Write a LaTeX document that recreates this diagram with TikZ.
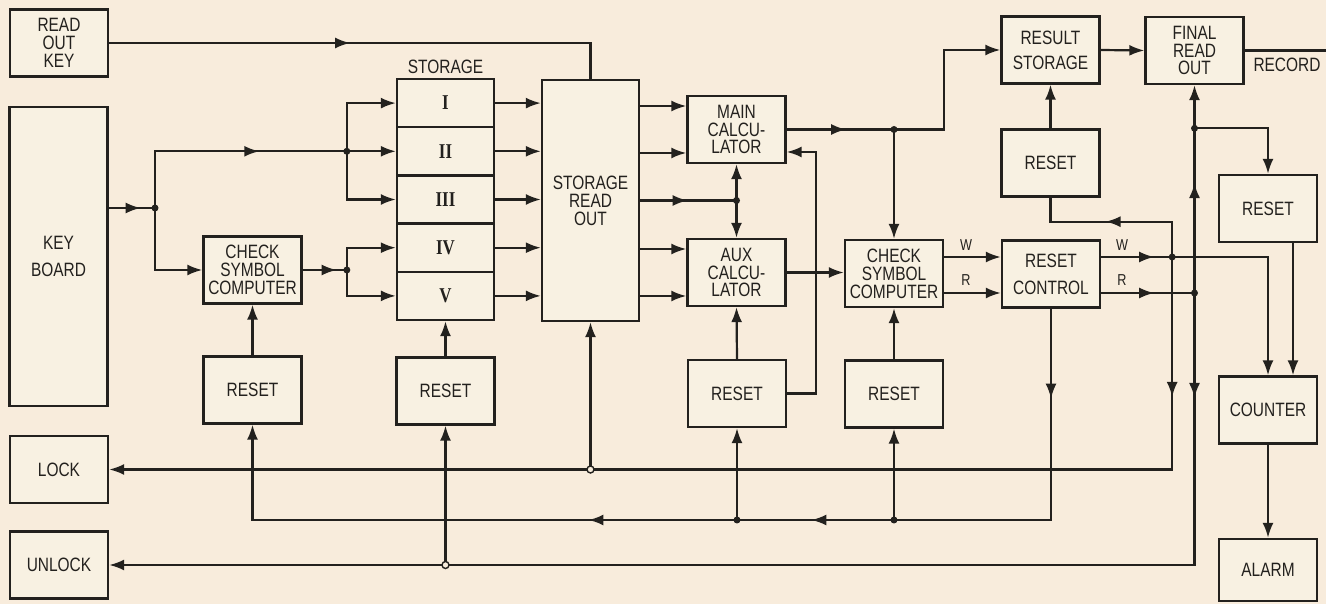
\documentclass[tikz,border=0pt]{standalone}
\usepackage{fontspec}
\setmainfont{Liberation Sans}[FakeStretch=0.8]
\newfontfamily\romfont{Liberation Serif}[FakeStretch=0.8]
\usetikzlibrary{arrows.meta,decorations.markings}
\definecolor{paper}{RGB}{248,236,220}
\definecolor{boxfill}{RGB}{248,241,226}
\definecolor{ink}{RGB}{35,33,30}

\begin{document}
\begin{tikzpicture}[x=0.02cm, y=-0.02cm,
	>={Latex[length=3mm,width=2.2mm]},
	blk/.style={draw=ink, text=ink, line width=1.35pt, fill=boxfill, align=center, inner sep=0pt, minimum width=1.96cm, minimum height=1.34cm, font=\fontsize{11}{10.2}\selectfont},
	row/.style={blk, minimum width=1.94cm, minimum height=0.964cm, font=\romfont\bfseries\fontsize{12}{12}\selectfont},
	lbl/.style={inner sep=0pt, text=ink, font=\fontsize{11}{10.2}\selectfont},
	sm/.style={inner sep=0pt, text=ink, font=\fontsize{9}{9}\selectfont},
	wire/.style={ink, line width=1.25pt},
	marr/.style={postaction={decorate, decoration={markings, mark=at position #1 with {\arrow{>}}}}},
	ring/.style={draw=ink, line width=0.8pt, fill=paper}]

		\useasboundingbox (0,0) rectangle (1326,604);
		\fill[paper] (0,0) rectangle (1326,604);

		% left column
		\node[blk] (readkey) at (59,43) {READ\\OUT\\KEY};
		\node[blk, minimum height=5.98cm] (keyboard) at (58.5,256.5) {KEY\\[5pt]BOARD};
		\node[blk] (lock) at (59,469.5) {LOCK};
		\node[blk] (unlock) at (59,565) {UNLOCK};
		\node[blk] (chkleft) at (252.5,270) {CHECK\\SYMBOL\\COMPUTER};
		\node[blk] (resetchk) at (252.5,390) {RESET};

		% storage
		\node[lbl] (storage) at (445.5,67) {STORAGE};
		\node[row] (st1) at (445.5,103.1) {I};
		\node[row] (st2) at (445.5,151.3) {II};
		\node[row] (st3) at (445.5,199.5) {III};
		\node[row] (st4) at (445.5,247.7) {IV};
		\node[row] (st5) at (445.5,295.9) {V};
		\node[blk] (resetst) at (445.5,391) {RESET};
		\node[blk, minimum width=1.94cm, minimum height=4.82cm] (readout) at (590.5,200.5) {STORAGE\\READ\\OUT};

		% calculators
		\node[blk] (maincalc) at (736.5,129.5) {MAIN\\CALCU-\\LATOR};
		\node[blk] (auxcalc) at (736.5,272.5) {AUX\\CALCU-\\LATOR};
		\node[blk] (resetaux) at (737,393.5) {RESET};
		\node[blk] (chkright) at (894,273.5) {CHECK\\SYMBOL\\COMPUTER};
		\node[blk] (resetchk2) at (894,394) {RESET};

		% result side
		\node[blk] (result) at (1050.5,50) {RESULT\\[4pt]STORAGE};
		\node[blk] (final) at (1194.5,50.5) {FINAL\\READ\\OUT};
		\node[blk] (resetres) at (1050.5,163) {RESET};
		\node[blk] (resetctl) at (1051,274) {RESET\\[5pt]CONTROL};
		\node[blk] (resetcnt) at (1268,208.5) {RESET};
		\node[blk] (counter) at (1268,410) {COUNTER};
		\node[blk, minimum height=1.24cm] (alarm) at (1268,570) {ALARM};
		\node[lbl] (record) at (1287,65) {RECORD};
		\node[sm] (w1) at (966,245) {W};
		\node[sm] (r1) at (966,280) {R};
		\node[sm] (w2) at (1122,245) {W};
		\node[sm] (r2) at (1122,280) {R};

		\coordinate (j1) at (155,208);
		\coordinate (j2) at ([xshift=-0.98cm]st2.west);
		\coordinate (j3) at (j2 |- chkleft.east);
		\coordinate (j4) at (maincalc.south |- readout.east);
		\coordinate (j5) at (chkright.north |- maincalc.east);
		\coordinate (k1) at (chkright.east |- maincalc.east);
		\coordinate (mcin1) at ([yshift=0.47cm]maincalc.west);
		\coordinate (mcin2) at ([yshift=-0.47cm]maincalc.west);
		\coordinate (mcin3) at ([yshift=-0.45cm]maincalc.east);
		\coordinate (acin1) at ([yshift=0.47cm]auxcalc.west);
		\coordinate (acin2) at ([yshift=-0.47cm]auxcalc.west);
		\coordinate (k2) at ([xshift=0.58cm]resetaux.east);
		\coordinate (rcwi) at ([yshift=0.34cm]resetctl.west);
		\coordinate (rcri) at ([yshift=-0.38cm]resetctl.west);
		\coordinate (rcwo) at ([yshift=0.34cm]resetctl.east);
		\coordinate (rcro) at ([yshift=-0.38cm]resetctl.east);
		\coordinate (j6) at ([xshift=1.42cm]rcwo);
		\coordinate (j8) at (final.south |- rcro);
		\coordinate (j9) at (final.south |- resetres.north);
		\coordinate (k3) at ([yshift=-0.48cm]resetres.south);
		\coordinate (bus) at (0,520);
		\coordinate (k5) at (resetchk.south |- bus);
		\coordinate (j13) at (resetchk2.south |- bus);
		\coordinate (j14) at (resetaux.south |- bus);
		\coordinate (j10) at (resetst.south |- unlock.east);
		\coordinate (j11) at (readout.south |- lock.east);
		\coordinate (recend) at (1326,52);

		% input side
		\draw[wire, marr=4.82cm] (readkey.east) -| (readout.north);
		\draw[wire, marr=0.64cm] (keyboard.east |- j1) -- (j1);
		\draw[wire, marr=3.22cm] (j1) |- (j2);
		\draw[wire, ->] (j1) |- (chkleft.west);
		\draw[wire, ->] (j2) |- (st1.west);
		\draw[wire, ->] (j2) -- (st2.west);
		\draw[wire, ->] (j2) |- (st3.west);
		\draw[wire, marr=0.68cm] (chkleft.east) -- (j3);
		\draw[wire, ->] (j3) |- (st4.west);
		\draw[wire, ->] (j3) |- (st5.west);
		\draw[wire, ->] (st1.east) -- (st1.east -| readout.west);
		\draw[wire, ->] (st2.east) -- (st2.east -| readout.west);
		\draw[wire, ->] (st3.east) -- (st3.east -| readout.west);
		\draw[wire, ->] (st4.east) -- (st4.east -| readout.west);
		\draw[wire, ->] (st5.east) -- (st5.east -| readout.west);

		% calculators
		\draw[wire, ->] (readout.east |- mcin1) -- (mcin1);
		\draw[wire, ->] (readout.east |- mcin2) -- (mcin2);
		\draw[wire, marr=0.95cm] (readout.east) -- (j4);
		\draw[wire, ->] (j4) -- (maincalc.south);
		\draw[wire, ->] (j4) -- (auxcalc.north);
		\draw[wire, ->] (readout.east |- acin1) -- (acin1);
		\draw[wire, ->] (readout.east |- acin2) -- (acin2);
		\draw[wire, marr=1.19cm] (maincalc.east) -- (j5);
		\draw[wire, ->] (j5) -- (chkright.north);
		\draw[wire, ->] (j5) -- (k1) |- (result.west);
		\draw[wire, ->] (resetaux.east) -- (k2) |- (mcin3);
		\draw[wire, ->] (auxcalc.east) -- (auxcalc.east -| chkright.west);
		\draw[wire, ->] (chkright.east |- rcwi) -- (rcwi);
		\draw[wire, ->] (chkright.east |- rcri) -- (rcri);

		% output side
		\draw[wire, ->] (result.east) -- (final.west);
		\draw[wire] (final.east) -- (final.east -| recend);
		\draw[wire, ->] (resetres.north) -- (result.south);
		\draw[wire, marr=1.06cm] (rcwo) -- (j6);
		\draw[wire, marr=1.06cm] (rcro) -- (j8);
		\draw[wire, ->] (j6) -| (counter.north);
		\draw[wire, marr=2.04cm] (j6) |- (k3) -- (resetres.south);
		\draw[wire, marr=2.8cm, ->] (j6) |- (lock.east);
		\draw[wire, marr=2.2cm, ->] (j8) -- (final.south);
		\draw[wire, ->] (j9) -| (resetcnt.north);
		\draw[wire, marr=2.1cm, ->] (j8) |- (unlock.east);
		\draw[wire, ->] ([xshift=0.5cm]resetcnt.south) -- ([xshift=0.5cm]counter.north);
		\draw[wire, ->] (counter.south) -- (alarm.north);

		% reset lines
		\draw[wire, marr=1.8cm, marr=9.02cm, marr=13.48cm, ->] (resetctl.south) |- (k5) -- (resetchk.south);
		\draw[wire, ->] (j13) -- (resetchk2.south);
		\draw[wire, ->] (j14) -- (resetaux.south);
		\draw[wire, ->] (j10) -- (resetst.south);
		\draw[wire, ->] (j11) -- (readout.south);
		\draw[wire, ->] (resetchk.north) -- (chkleft.south);
		\draw[wire, ->] (resetst.north) -- (st5.south);
		\draw[wire, ->] (resetaux.north) -- (auxcalc.south);
		\draw[wire, ->] (resetchk2.north) -- (chkright.south);

		\foreach \p in {j1,j2,j3,j4,j5,j6,j8,j9,j13,j14}
			\fill[ink] (\p) circle (0.07cm);
		\foreach \p in {j10,j11}
			\filldraw[ring] (\p) circle (0.07cm);

	\end{tikzpicture}
\end{document}
